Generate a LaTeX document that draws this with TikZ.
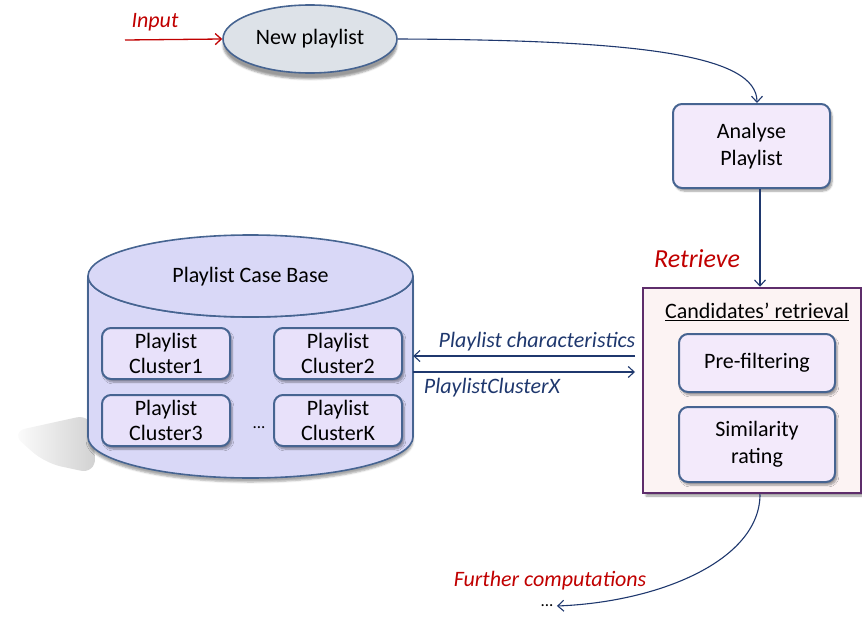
\documentclass[tikz,border=0pt]{standalone}
\usepackage{fontspec}
\setmainfont{Carlito}
\usetikzlibrary{arrows.meta,shapes.geometric,shadows.blur,positioning}
\definecolor{bordblue}{RGB}{70,100,145}
\definecolor{ellfill}{RGB}{221,226,232}
\definecolor{boxfill}{RGB}{243,234,251}
\definecolor{clfill}{RGB}{232,225,250}
\definecolor{cylfill}{RGB}{217,216,247}
\definecolor{candfill}{RGB}{252,243,243}
\definecolor{candbord}{RGB}{94,45,107}
\definecolor{lblred}{RGB}{192,0,0}
\definecolor{navy}{RGB}{31,56,110}
\tikzset{
  txt/.style={font=\fontsize{22}{27}\selectfont, align=center},
  rbox/.style={txt, draw=bordblue, line width=2pt, rounded corners=9pt, fill=boxfill, inner sep=0pt,
     blur shadow={shadow xshift=2pt, shadow yshift=-3pt, shadow blur steps=6, shadow opacity=40}},
  clbox/.style={rbox, fill=clfill, minimum width=128pt, minimum height=51pt, font=\fontsize{22}{25}\selectfont},
  conn/.style={draw=navy, line width=1.1pt, -{Straight Barb[length=6pt,width=11pt]}},
  redlbl/.style={font=\fontsize{22}{26}\selectfont\itshape, text=lblred},
  navylbl/.style={font=\fontsize{22}{26}\selectfont\itshape, text=navy},
  dotlbl/.style={font=\fontsize{17}{20}\selectfont},
}
\begin{document}
\begin{tikzpicture}[x=1pt,y=-1pt]
\useasboundingbox (0,0) rectangle (862,618);
% cylinder shadow
\shade[left color=white, right color=black!18, rounded corners=16pt]
  (10,432) -- (92,414) -- (96,474) -- (45,463) -- cycle;
% cylinder
\path[fill=cylfill, draw=bordblue, line width=1.6pt,
  blur shadow={shadow xshift=0pt, shadow yshift=-4pt, shadow opacity=35}]
  (88,276) -- (88,437) .. controls (88,459.6) and (160.75,478) .. (250.5,478)
  .. controls (340.25,478) and (413,459.6) .. (413,437) -- (413,276)
  .. controls (413,298.6) and (340.25,317) .. (250.5,317)
  .. controls (160.75,317) and (88,298.6) .. (88,276) -- cycle;
\draw[fill=cylfill, draw=bordblue, line width=1.6pt] (250.5,276) ellipse [x radius=162.5, y radius=41];
\node[txt] (cbtitle) at (250.5,277) {Playlist Case Base};
\node[inner sep=0, minimum width=325pt, minimum height=243pt] (cb) at (250.5,356.5) {};
\node[clbox] (c1) at (166,353.5) {Playlist\\Cluster1};
\node[clbox] (c2) at (338,353.5) {Playlist\\Cluster2};
\node[clbox] (c3) at (166,420.5) {Playlist\\Cluster3};
\node[clbox] (ck) at (338,420.5) {Playlist\\ClusterK};
\node[dotlbl] (dots1) at (259,428) {...};

% new playlist
\node[txt, ellipse, draw=bordblue, line width=1.6pt, fill=ellfill, minimum width=174pt, minimum height=68pt, inner sep=0pt,
  blur shadow={shadow xshift=0pt, shadow yshift=-6pt, shadow opacity=40}] (np) at (310,39) {New playlist};
\coordinate (inp) at (125,40);
\draw[draw=lblred, line width=1.3pt, -{Straight Barb[length=6pt,width=11pt]}] (inp) -- (np.west);
\node[redlbl] (inlbl) at (155,22) {Input};

% analyse
\node[rbox, minimum width=157pt, minimum height=84pt] (an) at (751.5,146) {Analyse\\Playlist};
\draw[conn] (np.east) .. controls (640,40) and (757,55) .. (an.north -| 757,0);

% candidates
\node[draw=candbord, line width=2.5pt, fill=candfill, minimum width=218pt, minimum height=205pt, inner sep=0pt,
  blur shadow={shadow xshift=3pt, shadow yshift=-3pt, shadow opacity=40}] (cand) at (752,390.5) {};
\node[txt] (candt) at (757,312) {\underline{Candidates’ retrieval}};
\node[rbox, minimum width=156pt, minimum height=58pt] (pf) at (757,363) {Pre-filtering};
\node[rbox, minimum width=156pt, minimum height=75pt] (sr) at (757,444.5) {Similarity\\rating};
\draw[conn] (an.south -| 760,0) -- (cand.north -| 760,0);
\node[redlbl, font=\fontsize{26}{30}\selectfont\itshape] (ret) at (697,259) {Retrieve};

% arrows between
\coordinate (a1s) at (635,356);
\coordinate (a2e) at (635,372);
\draw[conn] (a1s) -- (cb.east |- a1s);
\draw[conn] (cb.east |- a2e) -- (a2e);
\node[navylbl] (pcl) at (537,342) {Playlist characteristics};
\node[navylbl] (pcx) at (492,388) {PlaylistClusterX};

% further
\node[dotlbl] (dots2) at (547,606) {...};
\draw[conn] (cand.south -| 760,0) .. controls (760,560) and (660,602) .. (dots2.east);
\node[redlbl] (fc) at (550,581) {Further computations};
\end{tikzpicture}
\end{document}
